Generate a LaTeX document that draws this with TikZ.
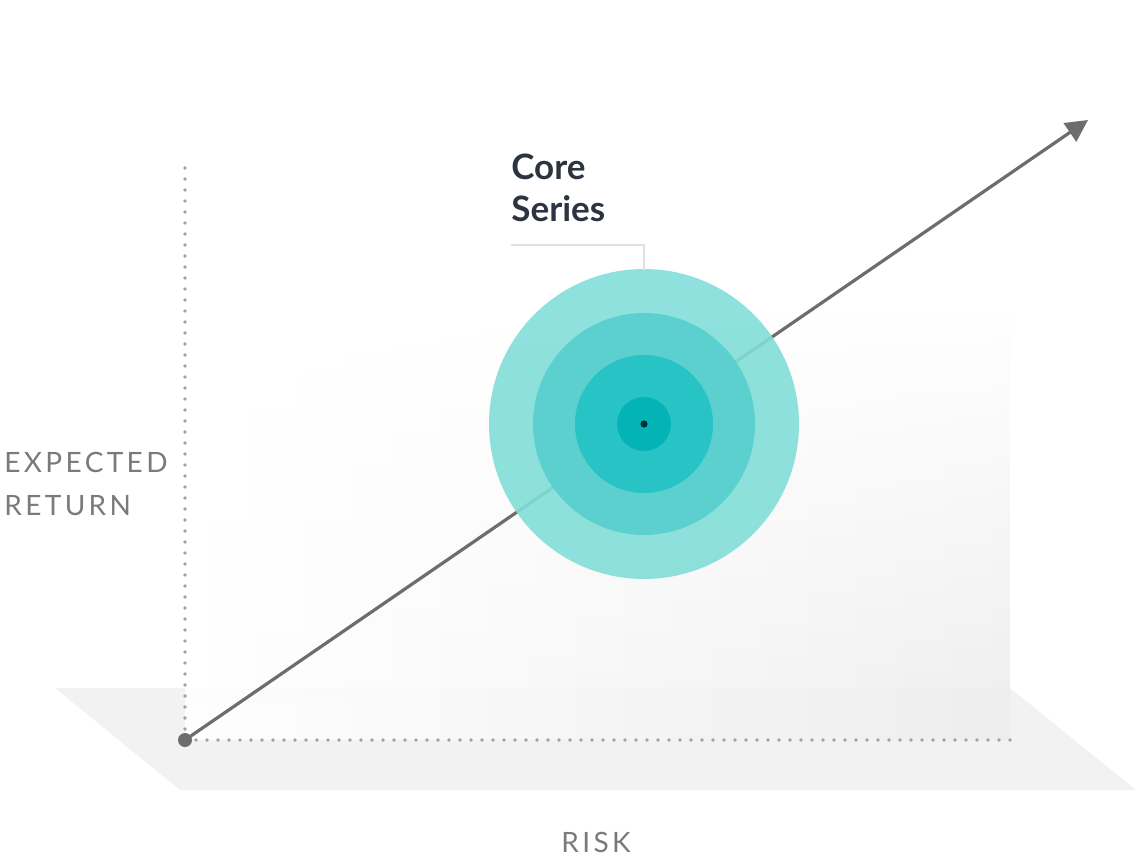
\documentclass[tikz,border=0pt]{standalone}
\usepackage{fontspec}
\setmainfont{Lato}
\usetikzlibrary{arrows.meta,fadings}
\definecolor{c1}{HTML}{82DED8}
\definecolor{c2}{HTML}{56CFCD}
\definecolor{c3}{HTML}{22C2C5}
\definecolor{c4}{HTML}{00B2B5}
\definecolor{arr}{HTML}{6D6D6B}
\definecolor{dotc}{HTML}{A0A0A0}
\definecolor{txt}{HTML}{7A7A7A}
\definecolor{dark}{HTML}{2B3440}
\tikzset{
  dotline/.style={dotc, line width=1.8pt, dash pattern=on 0pt off 5.5pt, line cap=round},
  axlabel/.style={text=txt, font=\fontsize{14}{20}\selectfont\addfontfeature{LetterSpace=12}, anchor=base west, inner sep=0},
  ring/.style={fill opacity=0.9}
}
\begin{document}
\begin{tikzpicture}[x=0.5pt,y=-0.5pt]
\useasboundingbox (0,0) rectangle (1136,857);
% floor
\fill[fill=black!5] (55,688) -- (1010,688) -- (1136,790) -- (180,790) -- cycle;
% wall
\shade[left color=white, right color=black!7, path fading=north] (185,300) rectangle (1010,740);
% axes
\coordinate (o) at (185,740);
\coordinate (ytop) at (185,168);
\coordinate (xend) at (1010,740);
\coordinate (tip) at (1088,120);
\draw[dotline] (o) -- (ytop);
\draw[dotline] (o) -- (xend);
\draw[arr, line width=1.6pt, -{Triangle[length=11pt,width=11pt]}] (o) -- (tip);
\fill[arr] (o) circle (3.5pt);
% circles
\coordinate (c) at (644,424);
\fill[c1, ring] (c) circle (77.5pt);
\fill[c2, ring] (c) circle (55.5pt);
\fill[c3, ring] (c) circle (34.5pt);
\fill[c4, ring] (c) circle (13.5pt);
\fill[black!60!teal] (c) circle (1.8pt);
% leader
\coordinate (l1) at (511,245);
\coordinate (l2) at (644,245);
\coordinate (l3) at (644,270);
\draw[black!12, line width=1pt] (l1) -- (l2) -- (l3);
\node[text=dark, font=\bfseries\fontsize{17.5}{21}\selectfont, anchor=base west, inner sep=0, align=left] (core) at (511,221) {Core\\Series};
\node[axlabel] (er1) at (4,472) {EXPECTED};
\node[axlabel] (er2) at (4,515) {RETURN};
\node[axlabel, anchor=base] (risk) at (596,852) {RISK};
\end{tikzpicture}
\end{document}
